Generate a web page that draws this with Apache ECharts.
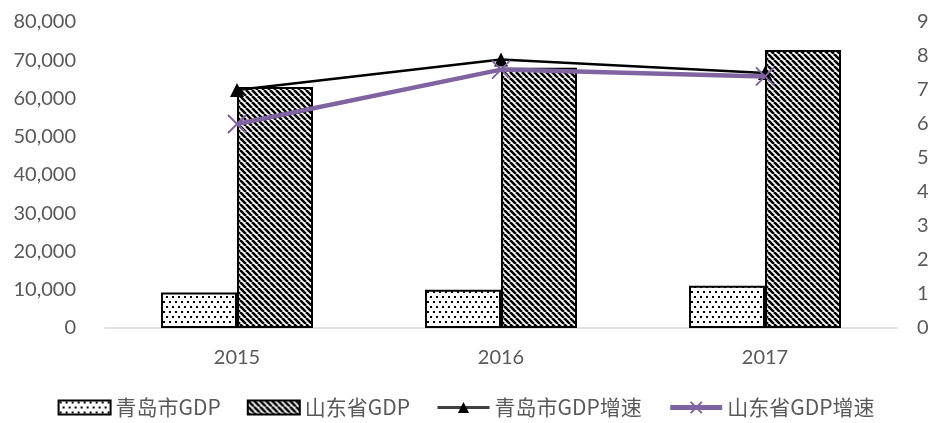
<!DOCTYPE html>
<html>
<head>
<meta charset="utf-8">
<script src="https://cdn.jsdelivr.net/npm/echarts@6/dist/echarts.min.js"></script>
<style>
  html, body { margin: 0; padding: 0; background: #fff; }
  #chart { width: 932px; height: 423px; }
</style>
</head>
<body>
<div id="chart"></div>
<script>
// Years on the category axis
const years = ['2015', '2016', '2017'];
// GDP (100 million yuan)
const qingdaoGdp = [9300, 10011, 11037];
const shandongGdp = [63002, 68024, 72678];
// GDP growth rate (%)
const qingdaoGrowth = [7.0, 7.9, 7.5];
const shandongGrowth = [6.0, 7.6, 7.4];
// Legend names
const names = ['青岛市GDP', '山东省GDP', '青岛市GDP增速', '山东省GDP增速'];

// Staggered dot texture
function dotPattern() {
  const c = document.createElement('canvas');
  c.width = 6; c.height = 10;
  const g = c.getContext('2d');
  g.fillStyle = '#fff';
  g.fillRect(0, 0, 6, 10);
  g.fillStyle = '#000';
  g.fillRect(1, 1, 2, 2);
  g.fillRect(4, 6, 2, 2);
  return c;
}

// Diagonal stripe texture (top-left to bottom-right)
function stripePattern() {
  const s = 6;
  const c = document.createElement('canvas');
  c.width = s; c.height = s;
  const g = c.getContext('2d');
  g.fillStyle = '#fff';
  g.fillRect(0, 0, s, s);
  g.strokeStyle = '#000';
  g.lineWidth = 2.6;
  g.beginPath();
  for (let k = -s; k <= s; k += s) {
    g.moveTo(k, 0);
    g.lineTo(k + s, s);
  }
  g.stroke();
  return c;
}

const textColor = '#595959';
const numFont = 'Lato, "Liberation Sans", sans-serif';
const cjkFont = '"Noto Sans CJK SC", "Noto Sans", sans-serif';
const purple = '#8064A2';

const chart = echarts.init(document.getElementById('chart'));
chart.setOption({
  animation: false,
  backgroundColor: '#fff',
  grid: { left: 105, right: 35, top: 22, bottom: 95 },
  legend: {
    bottom: 0,
    left: 'center',
    itemGap: 26,
    itemWidth: 52,
    itemHeight: 14,
    textStyle: { color: textColor, fontSize: 21, fontFamily: cjkFont },
    data: [
      { name: names[0], icon: 'rect' },
      { name: names[1], icon: 'rect' },
      { name: names[2], lineStyle: { width: 3, color: '#404040' } },
      { name: names[3], lineStyle: { width: 5, color: purple } }
    ]
  },
  xAxis: {
    type: 'category',
    data: years,
    axisLine: { lineStyle: { color: '#d9d9d9', width: 1.5 } },
    axisTick: { show: false },
    axisLabel: { color: textColor, fontSize: 20, fontFamily: numFont, margin: 20 }
  },
  yAxis: [
    {
      type: 'value', min: 0, max: 80000, interval: 10000,
      splitLine: { show: false },
      axisLine: { show: false },
      axisTick: { show: false },
      axisLabel: {
        color: textColor, fontSize: 20, margin: 29,
        fontFamily: numFont,
        formatter: v => v.toLocaleString('en-US')
      }
    },
    {
      type: 'value', min: 0, max: 9, interval: 1,
      splitLine: { show: false },
      axisLine: { show: false },
      axisTick: { show: false },
      axisLabel: {
        color: textColor, fontSize: 20, margin: 20,
        fontFamily: numFont
      }
    }
  ],
  series: [
    {
      name: names[0], type: 'bar', data: qingdaoGdp,
      barWidth: 76, barGap: '0%',
      itemStyle: { color: { image: dotPattern(), repeat: 'repeat' }, borderColor: '#000', borderWidth: 2 }
    },
    {
      name: names[1], type: 'bar', data: shandongGdp,
      barWidth: 76, barGap: '0%',
      itemStyle: { color: { image: stripePattern(), repeat: 'repeat' }, borderColor: '#000', borderWidth: 2 }
    },
    {
      name: names[2], type: 'line', yAxisIndex: 1, data: qingdaoGrowth,
      symbol: 'triangle', symbolSize: 14,
      lineStyle: { color: '#000', width: 2.5 },
      itemStyle: { color: '#000' },
      z: 5
    },
    {
      name: names[3], type: 'line', yAxisIndex: 1, data: shandongGrowth,
      symbol: 'path://M0,0L10,10M10,0L0,10', symbolSize: 18,
      lineStyle: { color: purple, width: 4.5 },
      itemStyle: { color: purple, borderColor: purple, borderWidth: 2 },
      z: 6
    }
  ]
});
</script>
</body>
</html>
